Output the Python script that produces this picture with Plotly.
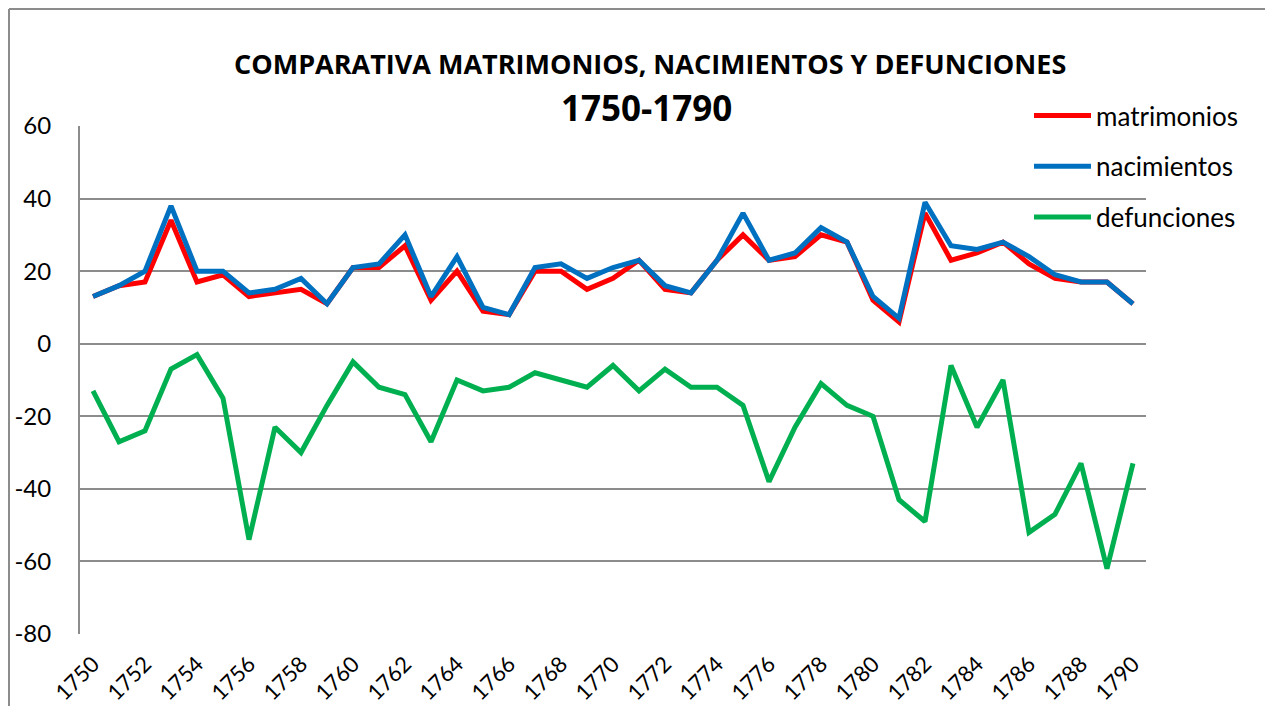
import plotly.graph_objects as go

years = list(range(1750, 1791))

matrimonios = [13, 16, 17, 34, 17, 19, 13, 14, 15, 11,
               21, 21, 27, 12, 20, 9, 8, 20, 20, 15,
               18, 23, 15, 14, 23, 30, 23, 24, 30, 28,
               12, 6, 36, 23, 25, 28, 22, 18, 17, 17, 11]

nacimientos = [13, 16, 20, 38, 20, 20, 14, 15, 18, 11,
               21, 22, 30, 13, 24, 10, 8, 21, 22, 18,
               21, 23, 16, 14, 23, 36, 23, 25, 32, 28,
               13, 7, 39, 27, 26, 28, 24, 19, 17, 17, 11]

defunciones = [-13, -27, -24, -7, -3, -15, -54, -23, -30, -17,
               -5, -12, -14, -27, -10, -13, -12, -8, -10, -12,
               -6, -13, -7, -12, -12, -17, -38, -23, -11, -17,
               -20, -43, -49, -6, -23, -10, -52, -47, -33, -62, -33]

year_ticks = list(range(1750, 1791, 2))
y_ticks = [60, 40, 20, 0, -20, -40, -60, -80]

FONT = "Lato"
TITLE_FONT = "Open Sans"
GRID = "#8c8c8c"

# plot area in pixels: x 80..1146, y 126..634
PL, PR, PT, PB = 80, 1146, 126, 634
PW, PH = PR - PL, PB - PT


def px(x):
    return (x - PL) / PW


def py(y):
    return (PB - y) / PH


series = [
    ("matrimonios", matrimonios, "#FF0000"),
    ("nacimientos", nacimientos, "#0070C0"),
    ("defunciones", defunciones, "#00B050"),
]

fig = go.Figure()
for name, vals, color in series:
    fig.add_trace(go.Scatter(
        x=years, y=vals, name=name, mode="lines",
        legendgroup=name,
        line=dict(color=color, width=5),
    ))

fig.update_layout(
    width=1272, height=706,
    margin=dict(l=PL, r=1272 - PR, t=PT, b=706 - PB, autoexpand=False),
    paper_bgcolor="white", plot_bgcolor="white",
    font=dict(family=FONT, color="black"),
    showlegend=True,
    legend=dict(
        x=px(1029), y=py(92), xanchor="left", yanchor="top",
        bgcolor="rgba(0,0,0,0)",
        font=dict(size=26, family=FONT),
        tracegroupgap=14,
        itemwidth=57,
    ),
    xaxis=dict(
        range=[1749.5, 1790.5],
        tickmode="array", tickvals=year_ticks,
        ticktext=[str(y) for y in year_ticks],
        tickangle=-45, tickfont=dict(size=22, family=FONT),
        showgrid=False, zeroline=False, showline=False,
        ticks="", ticklabelstandoff=12, automargin=False,
    ),
    yaxis=dict(
        range=[-80, 60],
        tickmode="array", tickvals=y_ticks,
        ticktext=[str(v) for v in y_ticks],
        tickfont=dict(size=24, family=FONT),
        showgrid=True, gridcolor=GRID, gridwidth=2,
        zeroline=False, showline=True, linecolor=GRID, linewidth=2,
        ticks="", ticklabelstandoff=22, automargin=False,
    ),
    shapes=[
        # outer chart frame (left and top edges)
        dict(type="line", xref="paper", yref="paper",
             x0=px(9), x1=px(9), y0=py(9), y1=py(720),
             line=dict(color=GRID, width=2), layer="below"),
        dict(type="line", xref="paper", yref="paper",
             x0=px(9), x1=px(1265), y0=py(9), y1=py(9),
             line=dict(color=GRID, width=2), layer="below"),
    ],
    annotations=[
        dict(text="<b>COMPARATIVA MATRIMONIOS, NACIMIENTOS Y DEFUNCIONES</b>",
             xref="paper", yref="paper", x=px(650), y=py(63),
             xanchor="center", yanchor="middle",
             showarrow=False, font=dict(size=27, family=TITLE_FONT)),
        dict(text="<b>1750-1790</b>",
             xref="paper", yref="paper", x=px(646), y=py(107),
             xanchor="center", yanchor="middle",
             showarrow=False, font=dict(size=35, family=TITLE_FONT)),
    ],
)

fig.write_html("out.html")
